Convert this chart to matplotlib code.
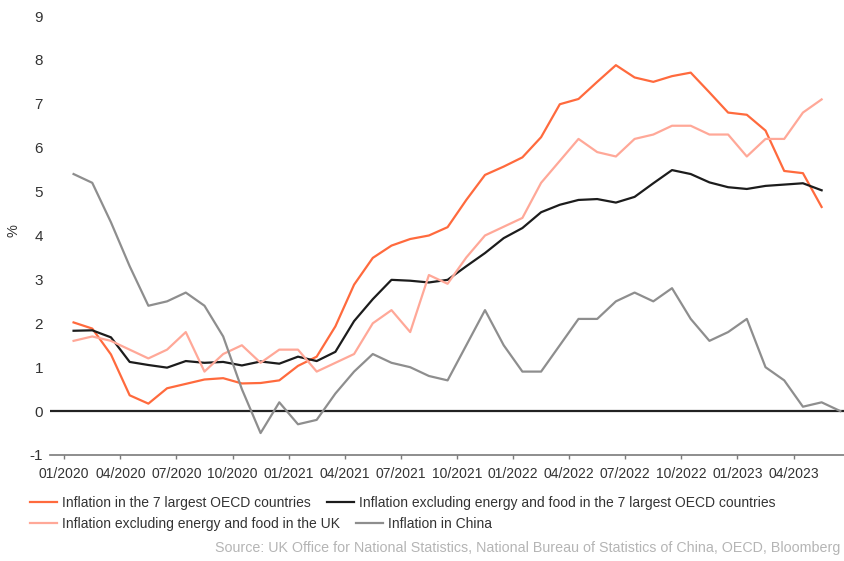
import numpy as np
import matplotlib
matplotlib.use("Agg")
import matplotlib.pyplot as plt

plt.rcParams['font.family'] = ['Liberation Sans', 'DejaVu Sans']
plt.rcParams['axes.unicode_minus'] = False

# monthly values, starting 01/2020
g7_cpi = [2.02, 1.88, 1.29, 0.36, 0.17, 0.52, 0.62, 0.72, 0.75, 0.63, 0.64, 0.70,
          1.03, 1.24, 1.93, 2.88, 3.49, 3.77, 3.92, 4.00, 4.19, 4.81, 5.38, 5.57,
          5.78, 6.24, 6.99, 7.11, 7.50, 7.88, 7.60, 7.50, 7.63, 7.71, 7.26, 6.80,
          6.75, 6.39, 5.47, 5.42, 4.65]
g7_core = [1.83, 1.84, 1.68, 1.12, 1.05, 0.99, 1.14, 1.10, 1.12, 1.04, 1.13, 1.08,
           1.24, 1.14, 1.35, 2.05, 2.55, 2.99, 2.97, 2.93, 2.99, 3.30, 3.60, 3.94,
           4.17, 4.53, 4.70, 4.81, 4.83, 4.75, 4.88, 5.19, 5.49, 5.40, 5.21, 5.10,
           5.06, 5.13, 5.16, 5.19, 5.03]
uk_core = [1.6, 1.7, 1.6, 1.4, 1.2, 1.4, 1.8, 0.9, 1.3, 1.5, 1.1, 1.4,
           1.4, 0.9, 1.1, 1.3, 2.0, 2.3, 1.8, 3.1, 2.9, 3.5, 4.0, 4.2,
           4.4, 5.2, 5.7, 6.2, 5.9, 5.8, 6.2, 6.3, 6.5, 6.5, 6.3, 6.3,
           5.8, 6.2, 6.2, 6.8, 7.1]
china_cpi = [5.4, 5.2, 4.3, 3.3, 2.4, 2.5, 2.7, 2.4, 1.7, 0.5, -0.5, 0.2,
             -0.3, -0.2, 0.4, 0.9, 1.3, 1.1, 1.0, 0.8, 0.7, 1.5, 2.3, 1.5,
             0.9, 0.9, 1.5, 2.1, 2.1, 2.5, 2.7, 2.5, 2.8, 2.1, 1.6, 1.8,
             2.1, 1.0, 0.7, 0.1, 0.2, 0.0]

tick_labels = ['01/2020', '04/2020', '07/2020', '10/2020', '01/2021', '04/2021', '07/2021',
               '10/2021', '01/2022', '04/2022', '07/2022', '10/2022', '01/2023', '04/2023']

series = [
    (g7_cpi, '#ff6a3d', 'Inflation in the 7 largest OECD countries'),
    (g7_core, '#1c1c1c', 'Inflation excluding energy and food in the 7 largest OECD countries'),
    (uk_core, '#ffa898', 'Inflation excluding energy and food in the UK'),
    (china_cpi, '#8e8e8e', 'Inflation in China'),
]

fig = plt.figure(figsize=(8.45, 5.61), dpi=100)
ax = fig.add_axes([50 / 845, 1 - 455 / 561, 1 - 50 / 845, (455 - 16) / 561])

handles = []
for vals, col, lab in series:
    x = np.arange(len(vals)) + 0.5
    h, = ax.plot(x, vals, color=col, lw=1.6, label=lab)
    handles.append(h)

ax.axhline(0, color='#222222', lw=1.6, zorder=1)

ax.set_ylim(-1, 9)
ax.set_xlim(-0.76, 41.75)
ax.set_yticks(range(-1, 10))
ax.set_xticks(np.arange(0, 3 * len(tick_labels), 3))
ax.set_xticklabels(tick_labels)

for s in ['top', 'right', 'left']:
    ax.spines[s].set_visible(False)
ax.spines['bottom'].set_color('#7a7a7a')
ax.spines['bottom'].set_linewidth(1.2)
ax.tick_params(axis='y', length=0, pad=5, labelsize=11, labelcolor='#333333')
ax.tick_params(axis='x', length=3, width=1, color='#7a7a7a', pad=6,
               labelsize=10, labelcolor='#333333')

fig.text(14 / 845, 1 - 231 / 561, '%', rotation=90, ha='center', va='center',
         fontsize=10.5, color='#333333')

leg_kw = dict(loc='center left', ncol=2, frameon=False, fontsize=10,
              handlelength=1.94, handletextpad=0.36, columnspacing=1.15,
              borderpad=0, borderaxespad=0)
leg1 = fig.legend(handles[:2], [s[2] for s in series[:2]],
                  bbox_to_anchor=(30 / 845, 1 - 503 / 561), **leg_kw)
leg2 = fig.legend(handles[2:], [s[2] for s in series[2:]],
                  bbox_to_anchor=(30 / 845, 1 - 524 / 561), **leg_kw)
for leg in (leg1, leg2):
    for t in leg.get_texts():
        t.set_color('#333333')

fig.text(215 / 845, 1 - 548 / 561,
         'Source: UK Office for National Statistics, National Bureau of Statistics of China, OECD, Bloomberg',
         fontsize=10.3, color='#b5b5b5', va='center', ha='left')

fig.savefig('out.png', dpi=100)
